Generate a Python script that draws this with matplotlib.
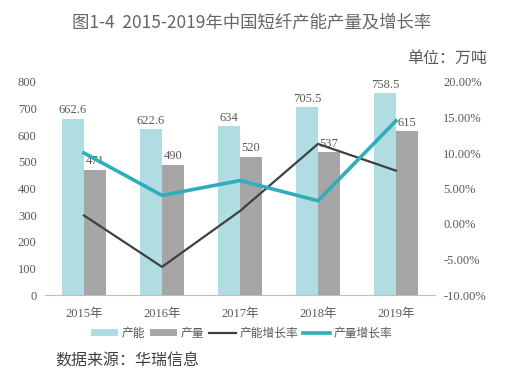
import matplotlib
matplotlib.use('Agg')
import matplotlib.pyplot as plt
import numpy as np

# data
years = ['2015年', '2016年', '2017年', '2018年', '2019年']
capacity = [662.6, 622.6, 634, 705.5, 758.5]
output = [471, 490, 520, 537, 615]
capacity_growth = [1.2, -6.04, 1.83, 11.28, 7.51]
output_growth = [10.0, 4.03, 6.12, 3.27, 14.53]
cap_labels = ['662.6', '622.6', '634', '705.5', '758.5']
out_labels = ['471', '490', '520', '537', '615']

SERIF = ['Liberation Serif', 'Noto Sans CJK SC']
CJK = ['Noto Sans CJK SC', 'DejaVu Sans']
TXT = '#595959'

fig = plt.figure(figsize=(5.11, 3.78), dpi=100)
ax = fig.add_axes([45/511, 1-295/378, 390/511, 213/378])
x = np.arange(len(years))
w = 0.282

ax.bar(x - w/2, capacity, w, color='#B0DDE2', label='产能')
ax.bar(x + w/2, output, w, color='#A6A6A6', label='产量')
for i in range(len(years)):
    ax.text(x[i] - w/2, capacity[i] + 8, cap_labels[i], ha='center', va='bottom',
            fontsize=9, color=TXT, family=SERIF)
    ax.text(x[i] + w/2, output[i] + 8, out_labels[i], ha='center', va='bottom',
            fontsize=9, color=TXT, family=SERIF)

ax.set_xlim(-0.5, 4.5)
ax.set_ylim(0, 800)
ax.set_yticks(range(0, 801, 100))
ax.set_xticks(x)
ax.set_xticklabels(years, family=SERIF, fontsize=9, color=TXT)
for lab in ax.get_yticklabels():
    lab.set_family(SERIF)
    lab.set_fontsize(9)
    lab.set_color(TXT)
ax.tick_params(axis='y', length=0, pad=6)
ax.tick_params(axis='x', length=0, pad=9)
for s in ['top', 'right', 'left']:
    ax.spines[s].set_visible(False)
ax.spines['bottom'].set_color('#BFBFBF')

ax2 = ax.twinx()
ax2.plot(x, capacity_growth, color='#404040', lw=1.6, label='产能增长率')
ax2.plot(x, output_growth, color='#2EAEBB', lw=2.6, label='产量增长率')
ax2.set_ylim(-10, 20)
ax2.set_yticks(range(-10, 21, 5))
ax2.set_yticklabels(['%.2f%%' % v for v in range(-10, 21, 5)], family=SERIF,
                    fontsize=9, color=TXT)
ax2.tick_params(length=0, pad=6)
for s in ax2.spines.values():
    s.set_visible(False)

h1, l1 = ax.get_legend_handles_labels()
h2, l2 = ax2.get_legend_handles_labels()
fig.legend(h1 + h2, l1 + l2, loc='center', bbox_to_anchor=(242/511, 1-333/378),
           ncol=4, frameon=False, prop={'family': CJK, 'size': 8.5},
           labelcolor=TXT, handlelength=2.3, handleheight=0.6, handletextpad=0.3,
           columnspacing=0.4)

fig.text(252/511, 1-22/378, '图1-4  2015-2019年中国短纤产能产量及增长率', ha='center',
         va='center', fontsize=12.5, color='#666666', family=CJK)
fig.text(487/511, 1-58/378, '单位：万吨', ha='right', va='center', fontsize=11.5,
         color=TXT, family=CJK)
fig.text(55/511, 1-361/378, '数据来源：华瑞信息', ha='left', va='center', fontsize=11.5,
         color='#404040', family=CJK)

fig.savefig('out.png', dpi=100)
